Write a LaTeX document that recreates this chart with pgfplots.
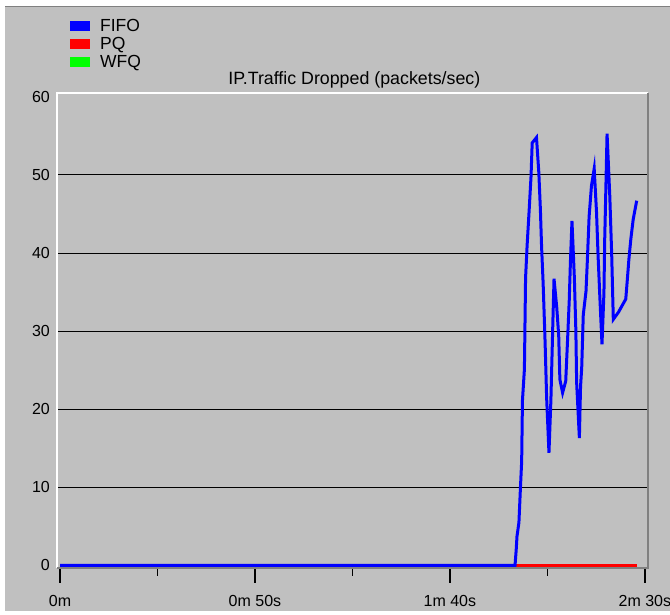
\documentclass[border=0pt]{standalone}
\usepackage{pgfplots}
\pgfplotsset{compat=1.18}
\usepackage{fontspec}
\setmainfont{Liberation Sans}
\definecolor{bg}{HTML}{C0C0C0}
\definecolor{edge}{HTML}{808080}
\definecolor{fifo}{HTML}{0000FF}
\definecolor{pq}{HTML}{FF0000}
\definecolor{wfq}{HTML}{00FF00}
\begin{document}
\begin{tikzpicture}[x=1pt,y=1pt]
\path[use as bounding box] (0,0) rectangle (670,615);
\fill[white] (0,0) rectangle (670,615);
\fill[bg] (5,4) rectangle (670,608);
\draw[edge, line width=1pt] (5,608.5) -- (670,608.5);
\begin{axis}[
  at={(57pt,47pt)}, anchor=south west,
  scale only axis, width=591pt, height=475pt,
  xmin=-0.77, xmax=150.8, ymin=-0.35, ymax=60.5,
  axis line style={draw=none},
  /pgf/number format/assume math mode=true,
  tick label style={font=\fontsize{16}{19}\selectfont},
  ytick={10,20,30,40,50},
  extra y ticks={0,60},
  extra y tick style={grid=none},
  ymajorgrids, grid style={black, line width=1pt},
  ytick style={draw=none},
  yticklabel style={inner sep=0pt, xshift=-7pt},
  xtick pos=bottom, ytick pos=left,
  xtick={0,50,100,150},
  xticklabels={0m,0m 50s,1m 40s,2m 30s},
  xticklabel style={yshift=-9pt},
  minor xtick={25,75,125},
  xtick align=outside,
  major tick length=15pt, minor tick length=8pt,
  xtick style={black, line width=1.5pt},
  title={IP.Traffic Dropped (packets/sec)},
  title style={font=\fontsize{17.8}{20}\selectfont, at={(axis description cs:0.503,1)}, anchor=base, yshift=2pt, inner sep=0pt},
  legend image code/.code={\fill[#1] (0pt,-4.5pt) rectangle (19pt,4.5pt);},
  legend style={at={(axis description cs:0.022,1.16)}, anchor=north west, draw=none, fill=none,
    font=\fontsize{17.5}{19}\selectfont, inner sep=0pt, row sep=0.3pt,
    /tikz/every odd column/.append style={column sep=8.5pt}},
  legend cell align=left,
]
\addlegendimage{fifo}
\addlegendentry{FIFO}
\addlegendimage{pq}
\addlegendentry{PQ}
\addlegendimage{wfq}
\addlegendentry{WFQ}
\addplot[wfq, line width=3pt, forget plot] coordinates {(0,0) (148,0)};
\addplot[pq, line width=3pt, forget plot] coordinates {(0,0) (148,0)};
\addplot[fifo, line width=3pt, line join=miter, forget plot] coordinates {
(0,0) (116.7,0) (117.0,2.0) (117.2,3.7) (117.7,5.5) (118.1,10.1) (118.4,13.3)
(118.6,21.1) (119.1,25.1) (119.2,28.9) (119.4,36.8) (119.8,41) (120.3,45.3)
(120.8,49.8) (121.1,54.1) (122.2,54.8) (122.8,50.3) (123.2,45.6) (123.5,40.9)
(123.9,36.2) (124.4,28.7) (124.8,21.5) (125.4,14.4) (125.9,21.2) (126.4,31.1)
(126.7,36.7) (127.4,33) (127.9,29.4) (128.2,23.8) (128.9,22.1) (129.7,23.6)
(130.2,29.2) (130.6,33.9) (130.9,38.8) (131.3,44.1) (131.9,37) (132.3,30)
(132.5,23.4) (133.2,16.3) (133.5,22.9) (133.8,25.3) (134.2,32.1) (134.9,35.1)
(135.2,38.5) (135.7,44.7) (136.3,48.6) (137.0,50.8) (137.6,45.2) (138.0,39.6)
(138.5,33.8) (139.0,28.3) (139.5,34.9) (139.7,41.8) (140.0,48.4) (140.3,55.3)
(141.0,47.3) (141.5,39.6) (141.9,31.5) (143.2,32.4) (145.1,34.1) (145.5,36.6)
(145.9,39.2) (146.4,41.8) (147.0,44.3) (147.9,46.7)
};
\end{axis}
\draw[white, line width=1.5pt] (57,47) -- (57,522) -- (648,522);
\draw[edge, line width=1.5pt] (648,522) -- (648,47) -- (57,47);
\end{tikzpicture}
\end{document}
